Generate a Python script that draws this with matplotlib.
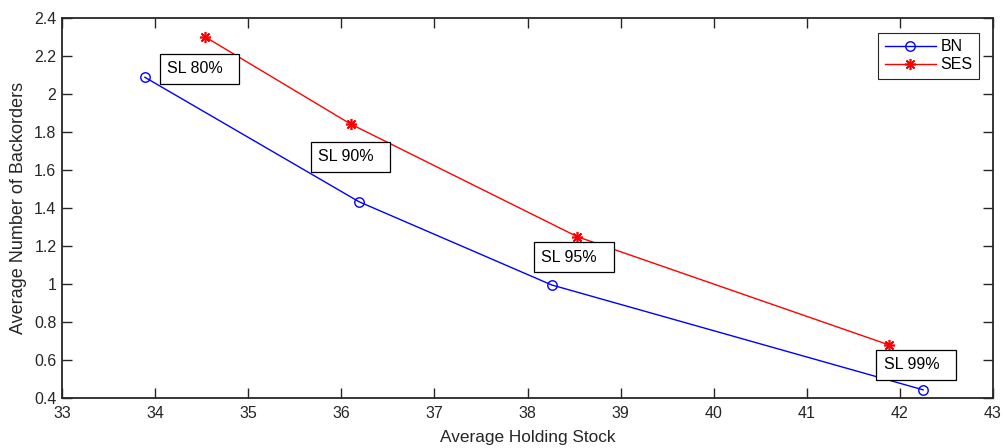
import matplotlib.pyplot as plt
from matplotlib.ticker import FuncFormatter
import numpy as np

plt.rcParams['font.family'] = ['Liberation Sans', 'DejaVu Sans']

# data
bn_x = np.array([33.89, 36.19, 38.26, 42.25])
bn_y = np.array([2.088, 1.433, 0.995, 0.443])
ses_x = np.array([34.54, 36.10, 38.535, 41.886])
ses_y = np.array([2.300, 1.842, 1.249, 0.679])
sl_labels = ['SL 80%', 'SL 90%', 'SL 95%', 'SL 99%']

fig = plt.figure(figsize=(10.04, 4.48), dpi=100)
ax = fig.add_axes([0.0618, 0.1116, 0.9272, 0.8482])

ax.plot(bn_x, bn_y, color='#0000ff', lw=1.0, marker='o', ms=6.8,
        mfc='none', mec='#0000ff', mew=1.0, label='BN')
ax.plot(ses_x, ses_y, color='#ff0000', lw=1.0, marker=(8, 2, 0), ms=8,
        mec='#ff0000', mew=1.2, label='SES')

# text boxes next to each service level
lab_x = [34.13, 35.75, 38.15, 41.825]
lab_y = [2.134, 1.671, 1.140, 0.576]
for lx, ly, s in zip(lab_x, lab_y, sl_labels):
    ax.text(lx, ly, s + '  ', fontsize=11.5, ha='left', va='center',
            color='#000000',
            bbox=dict(boxstyle='square,pad=0.47', fc='white', ec='black', lw=0.9))

ax.set_xlim(33, 43)
ax.set_ylim(0.4, 2.4)
ax.set_xticks(np.arange(33, 44, 1))
ax.set_yticks(np.arange(0.4, 2.41, 0.2))
ax.yaxis.set_major_formatter(FuncFormatter(lambda v, p: '%g' % round(v, 1)))

for sp in ax.spines.values():
    sp.set_linewidth(1.3)
    sp.set_color('#262626')
ax.tick_params(direction='in', top=True, right=True, length=7, width=1.0,
               color='#262626', labelsize=11.5, labelcolor='#262626')
ax.tick_params(axis='x', pad=6)
ax.tick_params(axis='y', pad=4)

ax.set_xlabel('Average Holding Stock', fontsize=12.4, color='#262626', labelpad=6)
ax.set_ylabel('Average Number of Backorders', fontsize=13, color='#262626', labelpad=5)

leg = ax.legend(loc='upper right', bbox_to_anchor=(0.985, 0.961), fontsize=11.5,
                fancybox=False, framealpha=1, edgecolor='#262626',
                handlelength=3.2, handletextpad=0.3, borderpad=0.4,
                labelspacing=0.2, borderaxespad=0)
leg.get_frame().set_linewidth(0.8)

fig.savefig('out.png', dpi=100)
